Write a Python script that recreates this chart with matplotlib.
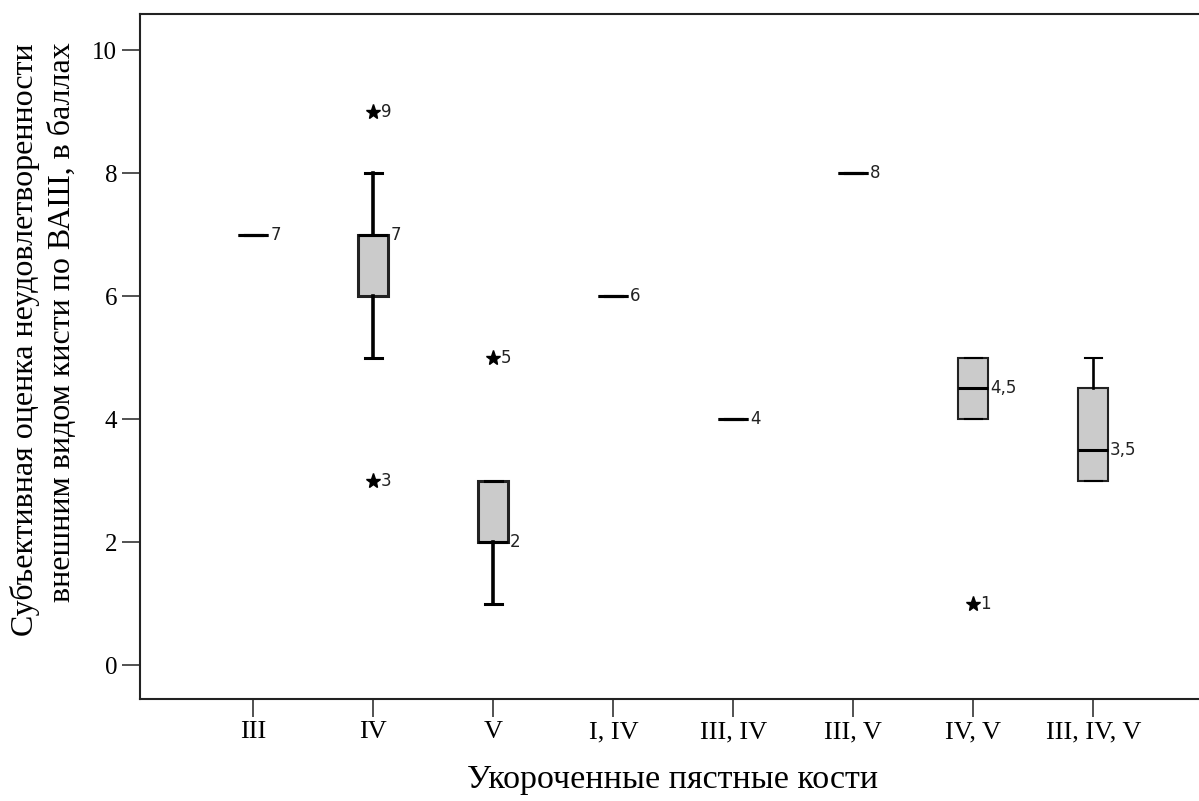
import matplotlib.pyplot as plt

# groups of shortened metacarpal bones
groups = ["III", "IV", "V", "I, IV", "III, IV", "III, V", "IV, V", "III, IV, V"]

# VAS dissatisfaction scores, box summary per group
medians = [7, 7, 2, 6, 4, 8, 4.5, 3.5]
q1 = [7, 6, 2, 6, 4, 8, 4, 3]
q3 = [7, 7, 3, 6, 4, 8, 5, 4.5]
whis_lo = [7, 5, 1, 6, 4, 8, 4, 3]
whis_hi = [7, 8, 3, 6, 4, 8, 5, 5]
outliers = [[], [9, 3], [5], [], [], [], [1], []]

median_labels = ["7", "7", "2", "6", "4", "8", "4,5", "3,5"]
outlier_labels = [[], ["9", "3"], ["5"], [], [], [], ["1"], []]

serif = ["Liberation Serif", "DejaVu Serif"]
sans = ["DejaVu Sans"]

W, H = 1199, 801
fig = plt.figure(figsize=(W / 100, H / 100), dpi=100)
# axes frame runs slightly past the right edge of the image
ax = fig.add_axes([139.5 / W, 102 / H, (1206 - 139.5) / W, 685 / H])

positions = list(range(len(groups)))
stats = []
for i in positions:
    stats.append(dict(med=medians[i], q1=q1[i], q3=q3[i],
                      whislo=whis_lo[i], whishi=whis_hi[i], fliers=[]))

# first boxes are drawn heavier than the last two
box_lw = [2.2, 2.2, 2.2, 2.2, 2.2, 2.2, 1.5, 1.5]
for i in positions:
    lw = box_lw[i]
    ax.bxp([stats[i]], positions=[i], widths=0.25, patch_artist=True,
           showfliers=False,
           boxprops=dict(facecolor="#cbcbcb", edgecolor="#222222", linewidth=lw),
           medianprops=dict(color="black", linewidth=2.2),
           whiskerprops=dict(color="black", linewidth=lw + 0.4),
           capprops=dict(color="black", linewidth=lw),
           capwidths=0.14)

    ax.text(i + 0.14, medians[i], median_labels[i], ha="left", va="center",
            fontsize=12, family=sans, color="#222222")

    for val, lab in zip(outliers[i], outlier_labels[i]):
        ax.plot(i, val, marker="*", color="black", markersize=11, linestyle="none")
        ax.text(i + 0.06, val, lab, ha="left", va="center",
                fontsize=12, family=sans, color="#222222")

ax.set_xlim(-0.95, 7.94)
ax.set_ylim(-0.55, 10.59)
ax.set_xticks(positions)
ax.set_xticklabels(groups, family=serif, fontsize=19)
ax.set_yticks([0, 2, 4, 6, 8, 10])
ax.set_yticklabels(["0", "2", "4", "6", "8", "10"], family=serif, fontsize=18)
ax.tick_params(axis="both", direction="out", length=13, width=1.1,
               color="#222222", pad=3)

for side in ["left", "bottom", "top", "right"]:
    ax.spines[side].set_linewidth(1.5)
    ax.spines[side].set_color("#222222")

fig.text(673 / W, 1 - 780 / H, "Укороченные пястные кости",
         ha="center", va="center", fontsize=24.5, family=serif)
fig.text(25 / W, 1 - 340 / H, "Субъективная оценка неудовлетворенности",
         ha="center", va="center", rotation=90, fontsize=23, family=serif)
fig.text(63 / W, 1 - 322 / H, "внешним видом кисти по ВАШ, в баллах",
         ha="center", va="center", rotation=90, fontsize=23, family=serif)

fig.savefig("out.png", dpi=100)
